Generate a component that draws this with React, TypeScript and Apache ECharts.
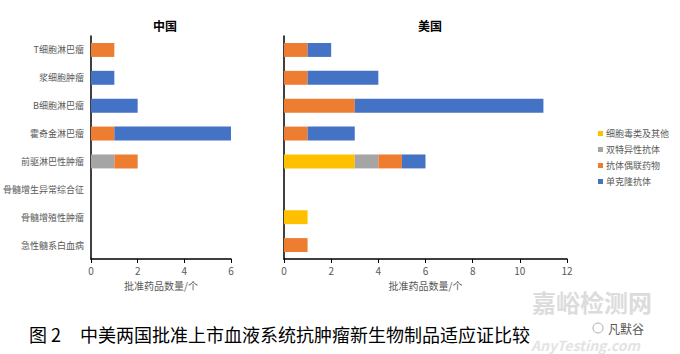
import React, { useEffect, useRef } from "react";
import * as echarts from "echarts";

const categories = ["T细胞淋巴瘤", "浆细胞肿瘤", "B细胞淋巴瘤", "霍奇金淋巴瘤", "前驱淋巴性肿瘤", "骨髓增生异常综合征", "骨髓增殖性肿瘤", "急性髓系白血病"];
const seriesNames = ["细胞毒类及其他", "双特异性抗体", "抗体偶联药物", "单克隆抗体"];
const colors = ["#FFC000", "#A5A5A5", "#ED7D31", "#4472C4"];

// China
const cnCytotoxic = [null, null, null, null, null, null, null, null];
const cnBispecific = [null, null, null, null, 1, null, null, null];
const cnADC = [1, null, null, 1, 1, null, null, null];
const cnMab = [null, 1, 2, 5, null, null, null, null];

// US
const usCytotoxic = [null, null, null, null, 3, null, 1, null];
const usBispecific = [null, null, null, null, 1, null, null, null];
const usADC = [1, 1, 3, 1, 1, null, null, 1];
const usMab = [1, 3, 8, 2, 1, null, null, null];

const xTicksCN = { min: 0, max: 6, interval: 2 };
const xTicksUS = { min: 0, max: 12, interval: 2 };

const FONT = "'Noto Sans CJK SC', 'Noto Sans', sans-serif";

export default function App() {
  const ref = useRef<HTMLDivElement>(null);
  useEffect(() => {
    const chart = echarts.init(ref.current!, null, { renderer: "svg" });
    const cn = [cnCytotoxic, cnBispecific, cnADC, cnMab];
    const us = [usCytotoxic, usBispecific, usADC, usMab];
    const mkSeries = (data: any[], idx: number, stack: string) =>
      data.map((d, i) => ({
        name: seriesNames[i],
        type: "bar",
        stack,
        xAxisIndex: idx,
        yAxisIndex: idx,
        barWidth: "50%",
        data: d,
        itemStyle: { color: colors[i] },
      }));
    const xAxisCommon = (t: any, gridIndex: number) => ({
      type: "value",
      gridIndex,
      ...t,
      name: "批准药品数量/个",
      nameLocation: "middle",
      nameGap: 21,
      nameTextStyle: { fontFamily: FONT, fontSize: 10, color: "#595959" },
      axisLine: { show: true, lineStyle: { color: "#000", width: 1.5 } },
      axisTick: { show: true, length: 4, lineStyle: { color: "#000" } },
      axisLabel: { fontFamily: FONT, fontSize: 10, color: "#595959", margin: 6 },
      splitLine: { show: false },
    });
    const yAxisCommon = (gridIndex: number, showLabels: boolean) => ({
      type: "category",
      gridIndex,
      inverse: true,
      data: categories,
      axisLine: { show: true, lineStyle: { color: "#000", width: 1.5 } },
      axisTick: { show: false },
      axisLabel: { show: showLabels, fontFamily: FONT, fontSize: 9, color: "#595959", margin: 7 },
    });
    chart.setOption({
      animation: false,
      textStyle: { fontFamily: FONT },
      title: [
        { text: "中国", left: 160, top: 14, textAlign: "center", textStyle: { fontFamily: FONT, fontSize: 12, fontWeight: "bold", color: "#000" } },
        { text: "美国", left: 425, top: 14, textAlign: "center", textStyle: { fontFamily: FONT, fontSize: 12, fontWeight: "bold", color: "#000" } },
      ],
      legend: {
        orient: "vertical",
        left: 593,
        top: 124,
        itemWidth: 5,
        itemHeight: 5,
        itemGap: 7,
        icon: "rect",
        data: seriesNames,
        textStyle: { fontFamily: FONT, fontSize: 9, color: "#595959", padding: [0, 0, 0, -2] },
      },
      grid: [
        { left: 91, width: 140, top: 36, height: 223 },
        { left: 284, width: 283, top: 36, height: 223 },
      ],
      xAxis: [xAxisCommon(xTicksCN, 0), xAxisCommon(xTicksUS, 1)],
      yAxis: [yAxisCommon(0, true), yAxisCommon(1, false)],
      series: [...mkSeries(cn, 0, "cn"), ...mkSeries(us, 1, "us")],
      graphic: [
        { type: "text", left: 29, top: 325, style: { text: "图 2", font: `18px ${FONT}`, fill: "#000" } },
        { type: "text", left: 80, top: 325, style: { text: "中美两国批准上市血液系统抗肿瘤新生物制品适应证比较", font: `18px ${FONT}`, fill: "#000" } },
        { type: "text", left: 532, top: 289, style: { text: "嘉峪检测网", font: `bold 24px ${FONT}`, fill: "#dcdcdc" } },
        { type: "circle", shape: { cx: 598, cy: 328, r: 5 }, style: { fill: "none", stroke: "#aaa", lineWidth: 1 }, z: 10 },
        { type: "text", left: 608, top: 322, style: { text: "凡默谷", font: `12px ${FONT}`, fill: "#555" }, z: 10 },
        { type: "text", left: 531, top: 338, style: { text: "AnyTesting.com", font: `italic bold 14px ${FONT}`, fill: "#e3e3e3" } },
      ],
    });
    return () => chart.dispose();
  }, []);
  return <div ref={ref} style={{ position: "fixed", left: 0, top: 0, width: 680, height: 354, background: "#fff" }} />;
}
